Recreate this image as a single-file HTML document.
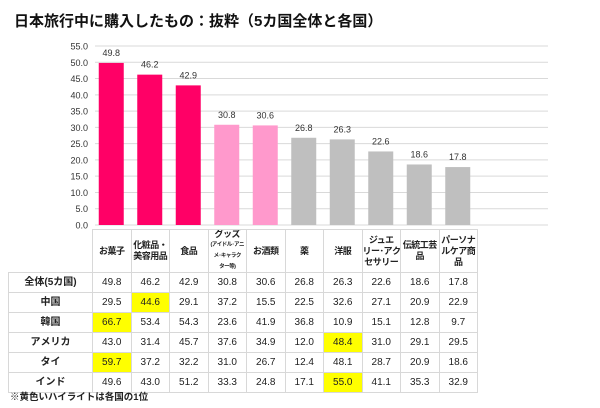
<!DOCTYPE html>
<html><head><meta charset="utf-8">
<style>
body{margin:0;width:600px;height:408px;background:#fff;font-family:"Liberation Sans","Noto Sans CJK JP",sans-serif;position:relative;overflow:hidden}
#title{position:absolute;left:14px;top:10px;font-size:15px;font-weight:bold;color:#111}
svg{position:absolute;left:0;top:0}
table{position:absolute;left:8px;top:229px;border-collapse:collapse;font-size:10px;color:#222;table-layout:fixed;width:469px}
td{border:1px solid #d8d8d8;text-align:center;padding:0;height:19px;line-height:12px;overflow:hidden;white-space:nowrap}
td.lab{font-weight:bold}
tr.hd td{height:38px;font-weight:bold;line-height:11px;font-size:9px;letter-spacing:-0.5px}
tr.hd td.lab{border:none;border-right:1px solid #d8d8d8}
.hl{background:#ffff00}
#note{position:absolute;left:10px;top:389px;font-size:9.5px;font-weight:bold;color:#222}
</style></head><body>
<div id="title">日本旅行中に購入したもの：抜粋（5カ国全体と各国）</div>
<svg id="chart" width="600" height="230"></svg>
<table>
<colgroup><col style="width:84px"><col span="10" style="width:38.5px"></colgroup>
<tr class="hd"><td class="lab"></td><td>お菓子</td><td>化粧品・<br>美容用品</td><td>食品</td><td style="line-height:9px">グッズ<br><span style="font-size:5.5px">(アイドル･アニ<br>メ･キャラク<br>ター等)</span></td><td>お酒類</td><td>薬</td><td>洋服</td><td>ジュエ<br>リー･アク<br>セサリー</td><td>伝統工芸<br>品</td><td>パーソナ<br>ルケア商<br>品</td></tr>
<tr><td class="lab">全体(5カ国)</td><td>49.8</td><td>46.2</td><td>42.9</td><td>30.8</td><td>30.6</td><td>26.8</td><td>26.3</td><td>22.6</td><td>18.6</td><td>17.8</td></tr>
<tr><td class="lab">中国</td><td>29.5</td><td class="hl">44.6</td><td>29.1</td><td>37.2</td><td>15.5</td><td>22.5</td><td>32.6</td><td>27.1</td><td>20.9</td><td>22.9</td></tr>
<tr><td class="lab">韓国</td><td class="hl">66.7</td><td>53.4</td><td>54.3</td><td>23.6</td><td>41.9</td><td>36.8</td><td>10.9</td><td>15.1</td><td>12.8</td><td>9.7</td></tr>
<tr><td class="lab">アメリカ</td><td>43.0</td><td>31.4</td><td>45.7</td><td>37.6</td><td>34.9</td><td>12.0</td><td class="hl">48.4</td><td>31.0</td><td>29.1</td><td>29.5</td></tr>
<tr><td class="lab">タイ</td><td class="hl">59.7</td><td>37.2</td><td>32.2</td><td>31.0</td><td>26.7</td><td>12.4</td><td>48.1</td><td>28.7</td><td>20.9</td><td>18.6</td></tr>
<tr><td class="lab">インド</td><td>49.6</td><td>43.0</td><td>51.2</td><td>33.3</td><td>24.8</td><td>17.1</td><td class="hl">55.0</td><td>41.1</td><td>35.3</td><td>32.9</td></tr>
</table>
<div id="note">※黄色いハイライトは各国の1位</div>
<script>
const categories=["お菓子","化粧品・美容用品","食品","グッズ","お酒類","薬","洋服","ジュエリー・アクセサリー","伝統工芸品","パーソナルケア商品"];
const values=[49.8,46.2,42.9,30.8,30.6,26.8,26.3,22.6,18.6,17.8];
const colors=["#ff0066","#ff0066","#ff0066","#ff99cc","#ff99cc","#bfbfbf","#bfbfbf","#bfbfbf","#bfbfbf","#bfbfbf"];
const ticks=[0,5,10,15,20,25,30,35,40,45,50,55];
const NS="http://www.w3.org/2000/svg",svg=document.getElementById('chart');
const y=v=>225-v*(179/55);
const x=i=>92+i*38.5+19.25;
function mk(t,a){const e=document.createElementNS(NS,t);for(const k in a)e.setAttribute(k,a[k]);svg.appendChild(e);return e;}
ticks.forEach(t=>{
const l=mk('line',{x1:95,x2:548,y1:y(t),y2:y(t),stroke:'#d9d9d9','stroke-width':1});


const tx=mk('text',{x:88,y:y(t)+3.5,'text-anchor':'end','font-size':9,fill:'#333'});tx.textContent=t.toFixed(1);


});
values.forEach((v,i)=>{
const r=mk('rect',{x:x(i)-12.5,y:y(v),width:25,height:225-y(v),fill:colors[i]});


const t=mk('text',{x:x(i),y:y(v)-7,'text-anchor':'middle','font-size':9,fill:'#333'});t.textContent=v.toFixed(1);


});
</script>
</body></html>
